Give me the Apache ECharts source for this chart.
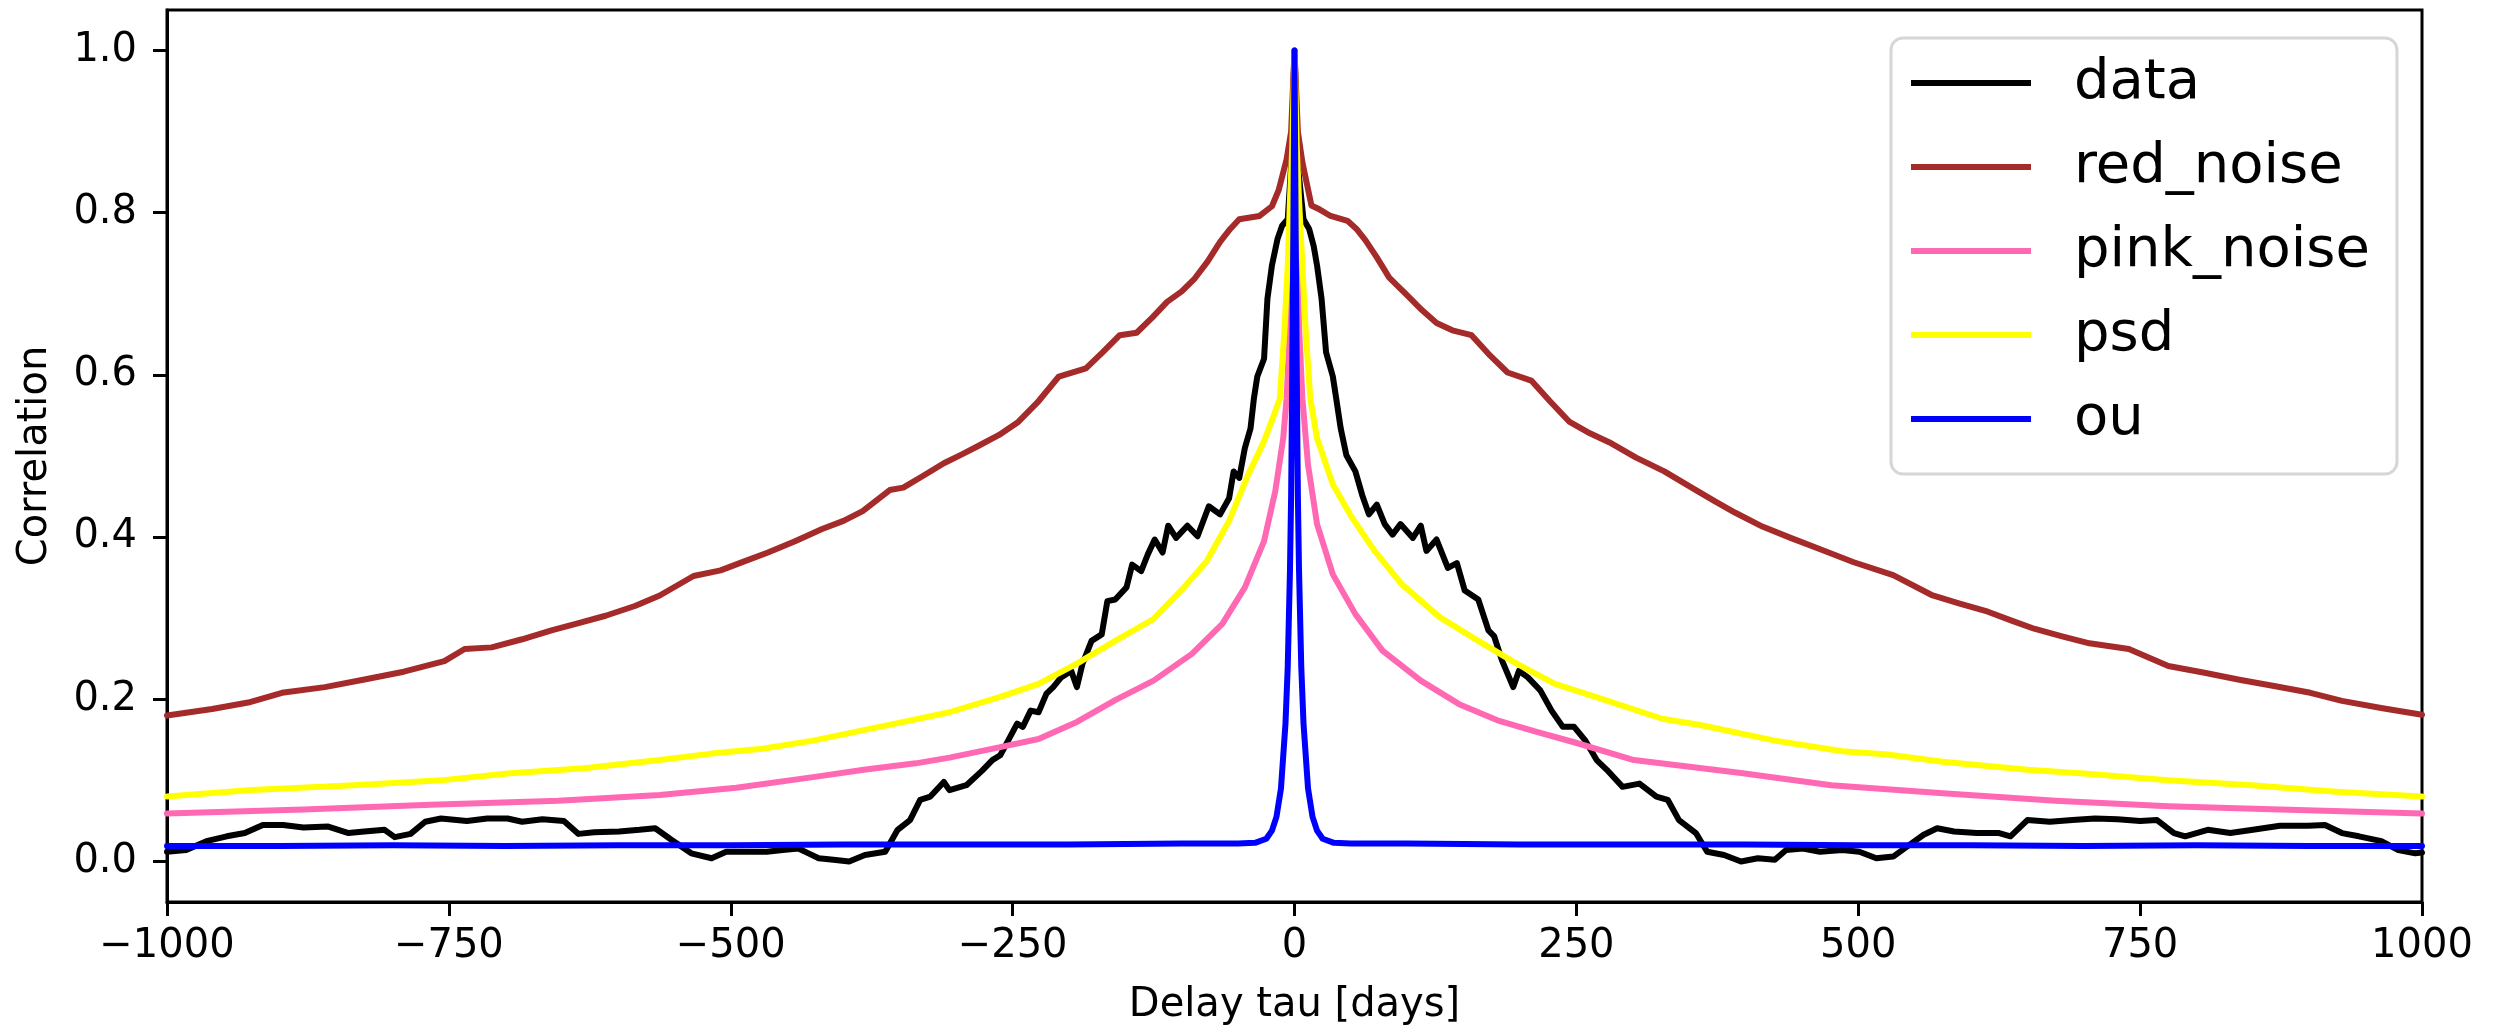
<!DOCTYPE html>
<html>
<head>
<meta charset="utf-8">
<script src="https://cdn.jsdelivr.net/npm/echarts@6/dist/echarts.min.js"></script>
<style>
html,body{margin:0;padding:0;background:#fff;}
#chart{width:2504px;height:1031px;}
</style>
</head>
<body>
<div id="chart"></div>
<script>
// ---- data: [tau (days), correlation] ----
const dataSeries = [
[-1000,0.012],[-983,0.014],[-965,0.025],[-947,0.031],[-931,0.035],[-915,0.045],[-897,0.045],[-879,0.042],[-857,0.043],[-839,0.035],[-825,0.037],[-807,0.039],[-798,0.030],[-784,0.034],[-771,0.049],[-757,0.053],[-734,0.050],[-716,0.053],[-698,0.053],[-685,0.049],[-667,0.052],[-648,0.050],[-635,0.034],[-621,0.036],[-599,0.037],[-581,0.039],[-567,0.041],[-553,0.027],[-535,0.010],[-517,0.004],[-504,0.012],[-486,0.012],[-468,0.012],[-454,0.014],[-440,0.016],[-431,0.010],[-422,0.004],[-409,0.002],[-395,0.000],[-381,0.008],[-363,0.012],[-352,0.039],[-341,0.051],[-332,0.076],[-323,0.080],[-311,0.098],[-306,0.088],[-291,0.094],[-277,0.112],[-268,0.125],
[-261,0.131],[-254,0.149],[-246,0.170],[-241,0.166],[-234,0.186],[-227,0.184],[-220,0.207],[-214,0.215],[-207,0.227],[-198,0.235],[-193,0.215],[-188,0.244],[-180,0.272],[-171,0.280],[-166,0.321],[-159,0.323],[-149,0.338],[-144,0.366],[-136,0.358],[-130,0.379],[-124,0.397],[-117,0.381],[-112,0.414],[-105,0.399],[-95,0.414],[-86,0.401],[-76,0.438],[-66,0.428],[-58,0.448],[-54,0.481],[-49,0.473],[-44,0.510],[-39,0.534],[-36,0.571],[-33,0.598],[-27,0.620],[-24,0.694],[-20,0.735],[-15,0.768],[-11,0.784],[-6,0.792],[-3,0.858],[0,1.0],
[3,0.858],[8,0.792],[13,0.780],[17,0.759],[20,0.735],[24,0.694],[28,0.628],[34,0.598],[37,0.571],[41,0.534],[46,0.501],[54,0.481],[60,0.452],[66,0.428],[73,0.440],[80,0.416],[87,0.403],[94,0.416],[105,0.399],[112,0.414],[117,0.383],[126,0.397],[136,0.362],[144,0.368],[151,0.334],[163,0.323],[172,0.285],[177,0.278],[184,0.248],[194,0.215],[199,0.235],[207,0.227],[218,0.211],[228,0.186],[238,0.166],[248,0.166],[258,0.149],[268,0.125],[277,0.113],[291,0.092],[306,0.096],[321,0.080],[331,0.076],[341,0.051],[356,0.035],[366,0.012],[381,0.008],[396,0.000],[411,0.004],[426,0.002],[436,0.014],[451,0.016],[466,0.012],[486,0.014],[501,0.012],[516,0.004],[531,0.006],[546,0.021],[558,0.033],[570,0.041],[585,0.037],[605,0.035],[625,0.035],[635,0.031],[650,0.051],[670,0.049],[690,0.051],[710,0.053],[730,0.052],[750,0.050],[765,0.051],[780,0.035],[790,0.031],[810,0.039],[830,0.035],[850,0.039],[874,0.044],[899,0.044],[914,0.045],[929,0.035],[944,0.031],[964,0.025],[979,0.014],[994,0.010],[1000,0.011]
];
const redNoise = [
[-1000,0.180],[-960,0.188],[-928,0.196],[-898,0.208],[-860,0.215],[-826,0.224],[-790,0.234],[-754,0.247],[-736,0.262],[-712,0.264],[-685,0.274],[-659,0.285],[-635,0.294],[-611,0.303],[-585,0.315],[-563,0.328],[-533,0.352],[-509,0.359],[-488,0.370],[-467,0.381],[-443,0.395],[-419,0.410],[-400,0.420],[-383,0.432],[-359,0.458],[-347,0.461],[-330,0.475],[-311,0.491],[-295,0.502],[-281,0.512],[-262,0.526],[-245,0.542],[-228,0.566],[-209,0.598],[-185,0.608],[-170,0.628],[-155,0.649],[-140,0.652],[-126,0.671],[-113,0.690],[-100,0.703],[-89,0.718],[-77,0.740],[-66,0.764],[-57,0.780],[-49,0.792],[-31,0.796],[-20,0.808],[-14,0.828],[-7,0.866],[-3,0.900],[0,1.0],
[3,0.900],[7,0.862],[15,0.809],[21,0.805],[32,0.796],[47,0.790],[55,0.780],[63,0.766],[73,0.745],[84,0.720],[100,0.698],[113,0.680],[126,0.664],[140,0.655],[157,0.649],[172,0.626],[189,0.603],[210,0.593],[227,0.567],[244,0.542],[262,0.528],[279,0.517],[303,0.498],[328,0.481],[356,0.458],[373,0.444],[391,0.430],[415,0.413],[440,0.399],[468,0.384],[496,0.369],[531,0.353],[566,0.328],[590,0.318],[615,0.308],[636,0.297],[656,0.287],[680,0.278],[705,0.269],[740,0.262],[775,0.241],[806,0.233],[838,0.224],[870,0.216],[901,0.208],[929,0.198],[965,0.189],[1000,0.181]
];
const pinkNoise = [
[-1000,0.059],[-879,0.064],[-766,0.070],[-653,0.075],[-563,0.082],[-495,0.091],[-427,0.104],[-382,0.113],[-336,0.121],[-306,0.128],[-261,0.141],[-227,0.151],[-193,0.172],[-159,0.199],[-125,0.223],[-91,0.256],[-64,0.293],[-44,0.338],[-27,0.395],[-17,0.457],[-10,0.522],[-7,0.571],[-4,0.660],[-2,0.780],[0,1.0],
[2,0.780],[4,0.660],[7,0.571],[12,0.489],[20,0.416],[34,0.354],[54,0.305],[78,0.260],[112,0.223],[146,0.194],[180,0.174],[214,0.160],[248,0.147],[301,0.125],[396,0.109],[476,0.094],[575,0.084],[675,0.075],[775,0.068],[874,0.064],[1000,0.059]
];
const psd = [
[-1000,0.080],[-925,0.088],[-834,0.094],[-757,0.100],[-698,0.1085],[-630,0.115],[-563,0.125],[-517,0.133],[-472,0.139],[-427,0.149],[-382,0.162],[-354,0.170],[-306,0.184],[-261,0.203],[-227,0.219],[-193,0.244],[-159,0.272],[-125,0.299],[-98,0.338],[-78,0.370],[-58,0.420],[-41,0.477],[-27,0.518],[-17,0.555],[-13,0.571],[-9,0.653],[-6,0.735],[-4,0.817],[-2,0.880],[0,1.0],
[2,0.880],[4,0.817],[7,0.735],[10,0.653],[14,0.571],[20,0.522],[34,0.465],[51,0.424],[71,0.383],[95,0.342],[129,0.301],[163,0.272],[197,0.244],[231,0.219],[271,0.201],[326,0.176],[361,0.168],[426,0.149],[486,0.136],[526,0.132],[575,0.123],[650,0.113],[700,0.1085],[775,0.100],[849,0.094],[924,0.086],[1000,0.080]
];
const ou = [
[-1000,0.019],[-900,0.019],[-800,0.020],[-700,0.019],[-600,0.020],[-500,0.020],[-400,0.021],[-300,0.021],[-200,0.021],[-100,0.022],[-50,0.022],[-35,0.023],[-25,0.028],[-20,0.038],[-16,0.055],[-12,0.090],[-8,0.170],[-6,0.240],[-4,0.360],[-3,0.450],[-2,0.600],[-1,0.780],[0,1.0],
[1,0.780],[2,0.600],[3,0.450],[4,0.360],[6,0.240],[8,0.170],[12,0.090],[16,0.055],[20,0.038],[25,0.028],[35,0.023],[50,0.022],[100,0.022],[200,0.021],[300,0.021],[400,0.021],[500,0.020],[600,0.020],[700,0.019],[800,0.020],[900,0.019],[1000,0.019]
];
const seriesNames = ['data','red_noise','pink_noise','psd','ou'];
const seriesColors = ['#000000','#a52a2a','#ff69b4','#ffff00','#0000ff'];
const yTicks = [0, 0.2, 0.4, 0.6, 0.8, 1.0];

const FONT = 'DejaVu Sans';
const chart = echarts.init(document.getElementById('chart'), null, {renderer:'canvas'});
const allData = [dataSeries, redNoise, pinkNoise, psd, ou];

chart.setOption({
  animation: false,
  backgroundColor: '#ffffff',
  grid: {left:167, right:82, top:10, bottom:125, show:true, borderColor:'#000', borderWidth:3, backgroundColor:'transparent'},
  xAxis: {
    type:'value', min:-1000, max:1000, interval:250,
    name:'Delay tau [days]', nameLocation:'middle', nameGap:84,
    nameTextStyle:{fontFamily:FONT, fontSize:40, color:'#000'},
    axisLine:{show:true, onZero:false, lineStyle:{color:'#000', width:3}},
    axisTick:{show:true, inside:false, length:14, lineStyle:{color:'#000', width:3}},
    axisLabel:{fontFamily:FONT, fontSize:40, color:'#000', margin:25,
      formatter: v => v < 0 ? '\u2212' + Math.abs(v) : String(v)},
    splitLine:{show:false}
  },
  yAxis: {
    type:'value', min:-0.05, max:1.05,
    name:'Correlation', nameLocation:'middle', nameGap:111, nameRotate:90,
    nameTextStyle:{fontFamily:FONT, fontSize:40, color:'#000'},
    axisLine:{show:true, onZero:false, lineStyle:{color:'#000', width:3}},
    axisTick:{show:true, inside:false, length:14, lineStyle:{color:'#000', width:3}, customValues: yTicks},
    axisLabel:{fontFamily:FONT, fontSize:40, color:'#000', margin:30, customValues: yTicks,
      formatter: v => v.toFixed(1)},
    splitLine:{show:false}
  },
  legend: {
    orient:'vertical', left:1891, top:38,
    padding:[15,27,25,20],
    itemGap:24, itemWidth:120, itemHeight:6,
    icon:'rect',
    backgroundColor:'rgba(255,255,255,0.8)',
    borderColor:'#d6d6d6', borderWidth:3, borderRadius:12,
    textStyle:{fontFamily:FONT, fontSize:56, color:'#000', lineHeight:60, padding:[0,0,0,38]},
    data: seriesNames
  },
  series: seriesNames.map((n,i) => ({
    name:n, type:'line', data: allData[i],
    showSymbol:false, symbol:'none', smooth:false, clip:true,
    color: seriesColors[i],
    lineStyle:{color:seriesColors[i], width:6, join:'round', cap:'round'},
    emphasis:{disabled:true}
  }))
});
</script>
</body>
</html>
